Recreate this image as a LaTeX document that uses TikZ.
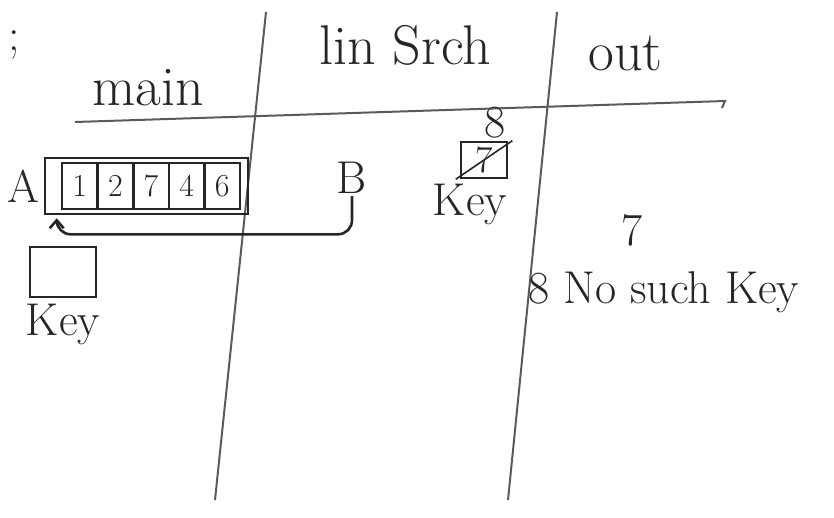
\documentclass[tikz,border=0pt]{standalone}
\usepackage{tikz}
\usetikzlibrary{positioning,arrows.meta,calc}
\definecolor{ink}{HTML}{262626}
\definecolor{rule}{HTML}{5A5A5A}

\begin{document}
\begin{tikzpicture}[x=1pt,y=-1pt,line width=2.6pt,
  lbl/.style={text=ink,font=\fontsize{46}{50}\selectfont,inner sep=1pt},
  hdr/.style={lbl,font=\fontsize{56}{60}\selectfont},
  cell/.style={draw=ink,minimum width=35.6pt,minimum height=46pt,inner sep=0pt,
    text=ink,font=\fontsize{32}{34}\selectfont},
  box/.style={draw=ink,inner sep=0pt},
  ptr/.style={draw=ink,-{Straight Barb[length=8pt,width=14pt]},rounded corners=14pt}]
  \useasboundingbox (0,0) rectangle (834,517);
  % table of columns
  \draw[rule,line width=2pt] (75,122) -- (725,101) -- ++(-3,7);
  \draw[rule,line width=2pt] (266,12) -- (215,500);
  \draw[rule,line width=2pt] (557,12) -- (508,500);
  \node[lbl] (semi) at (14,45) {;};
  \node[hdr] (main) at (148,88) {main};
  \node[hdr] (lin) at (405,45) {lin Srch};
  \node[hdr,anchor=west] (out) at (586,54) {out};
  % main: array A and pointer B
  \node[box,minimum width=203pt,minimum height=56pt] (arr) at (146.5,186) {};
  \foreach \v [count=\i] in {1,2,7,4,6}
    \node[cell] (c\i) at ({62+35.6*(\i-0.5)},186) {\v};
  \node[lbl,left=2pt of arr] (A) {A};
  \node[lbl] (B) at (352,178) {B};
  \coordinate (tip) at ([xshift=13pt,yshift=-3pt]arr.south west);
  \draw[ptr] (B.south) |- ([yshift=-16pt]tip) -- (tip);
  \node[box,minimum width=66pt,minimum height=50pt] (keyA) at (63,272) {};
  \node[lbl,below=3pt of keyA] (keyAl) {Key};
  % linSrch
  \node[box,minimum width=46pt,minimum height=36pt,text=ink,
    font=\fontsize{38}{40}\selectfont] (keyB) at (484,160) {7};
  \draw[ink,line width=1.6pt] ([xshift=-4pt]keyB.south west) -- ([xshift=4pt]keyB.north east);
  \node[lbl,above=0pt of keyB.north east,anchor=south east] (eight) {8};
  \node[lbl,below=2pt of keyB,xshift=-14pt] (keyBl) {Key};
  % out
  \node[lbl] (seven) at (632,230) {7};
  \node[lbl,anchor=west] (nokey) at (526,292) {8 No such Key};
\end{tikzpicture}
\end{document}
